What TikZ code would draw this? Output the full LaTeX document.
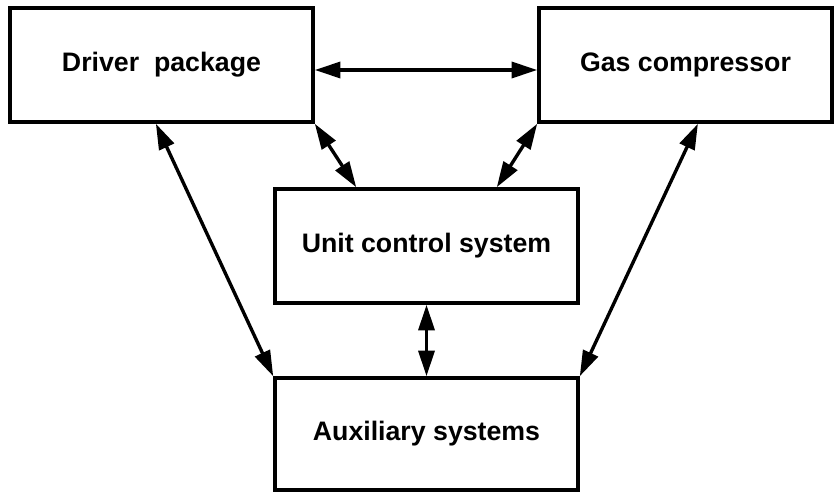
\documentclass[tikz,border=0pt]{standalone}
\usepackage{fontspec}
\setmainfont{Liberation Sans}
\usetikzlibrary{arrows.meta}

\begin{document}
\begin{tikzpicture}[
  x=0.025cm, y=-0.025cm,
  unitbox/.style={draw, line width=2.5pt, minimum width=7.575cm, minimum height=2.85cm, align=center, font=\fontsize{19}{22}\selectfont\bfseries},
  arrow/.style={{Triangle[length=6.4mm,width=4mm]}-{Triangle[length=6.4mm,width=4mm]}, line width=2.4pt}
]
\useasboundingbox (0,0) rectangle (835,492);
\node[unitbox] (driver) at (161.5,65) {Driver~~package};
\node[unitbox, minimum width=7.325cm] (gas) at (685.5,65) {Gas compressor};
\node[unitbox] (ucs) at (426.5,246) {Unit control system};
\node[unitbox, minimum height=2.8cm] (aux) at (426.5,434) {Auxiliary systems};
\draw[arrow] ([yshift=-0.125cm]driver.east) -- ([yshift=-0.125cm]gas.west);
\draw[arrow] ([xshift=-0.14cm]driver.south) -- (aux.north west);
\draw[arrow] (driver.south east) -- ([xshift=2.075cm]ucs.north west);
\draw[arrow] (gas.south west) -- ([xshift=-2.075cm]ucs.north east);
\draw[arrow] ([xshift=0.31cm]gas.south) -- (aux.north east);
\draw[arrow] (ucs.south) -- (aux.north);
\end{tikzpicture}
\end{document}
